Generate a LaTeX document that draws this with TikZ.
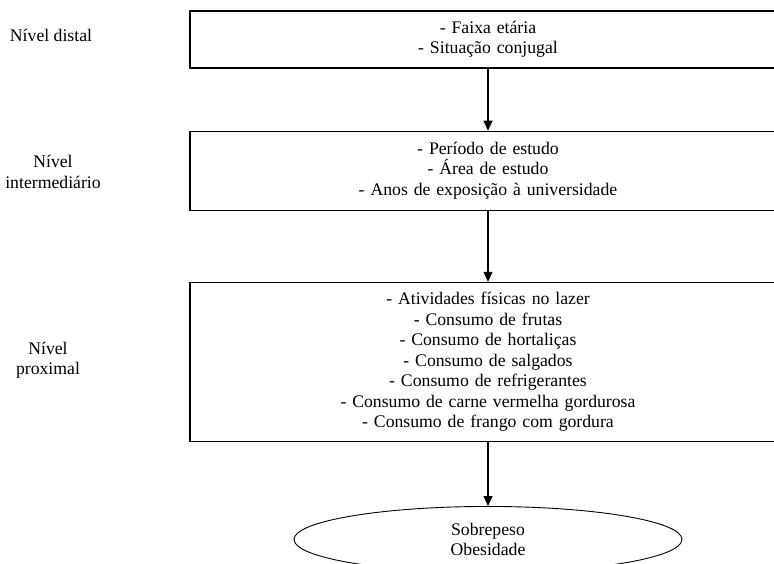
\documentclass[tikz,border=0pt]{standalone}
\usepackage{fontspec}
\setmainfont{Liberation Serif}
\usetikzlibrary{arrows.meta, positioning}
\usetikzlibrary{shapes.geometric}

\begin{document}
\begin{tikzpicture}[font=\fontsize{17.7}{20.5}\selectfont,
        levelbox/.style={draw, line width=1.2pt, text width=596pt, inner sep=0pt, align=center},
        flow/.style={line width=1.2pt, -{Triangle[length=10pt,width=9pt]}}]
        \useasboundingbox (0,0) rectangle (774pt,-563pt);

        \node (distal) [levelbox, minimum height=57pt] at (488pt,-39.5pt) {- Faixa etária\\ - Situação conjugal};
        \node (inter) [levelbox, minimum height=79pt, below=62pt of distal] {- Período de estudo\\ - Área de estudo\\ - Anos de exposição à universidade};
        \node (prox) [levelbox, minimum height=159pt, below=71pt of inter] {- Atividades físicas no lazer\\ - Consumo de frutas\\ - Consumo de hortaliças\\ - Consumo de salgados\\ - Consumo de refrigerantes\\ - Consumo de carne vermelha gordurosa\\ - Consumo de frango com gordura};
        \node (outcome) [ellipse, draw, line width=0.9pt, inner sep=0pt, minimum width=388pt, minimum height=66pt, align=center, below=64pt of prox] {Sobrepeso\\ Obesidade};

        \node (distallab) [align=center] at (51pt,-35pt) {Nível distal};
        \node (interlab) [align=center] at (53pt,-172pt) {Nível\\ intermediário};
        \node (proxlab) [align=center] at (48pt,-360pt) {Nível\\ proximal};

        \draw[flow] (distal) -- (inter);
        \draw[flow] (inter) -- (prox);
        \draw[flow] (prox) -- (outcome);
    \end{tikzpicture}
\end{document}
